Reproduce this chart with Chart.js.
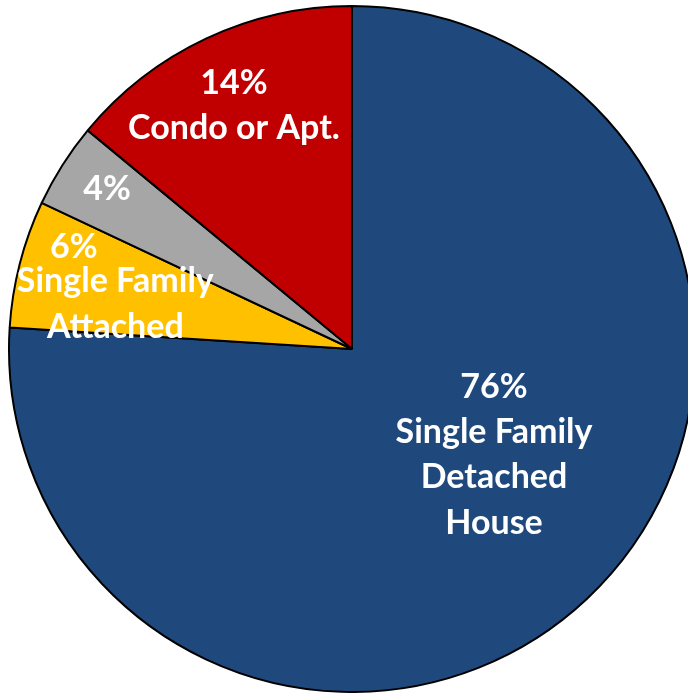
<!DOCTYPE html>
<html>
<head>
<meta charset="utf-8">
<script src="https://cdn.jsdelivr.net/npm/chart.js@4"></script>
<style>
  html, body { margin: 0; padding: 0; background: #ffffff; overflow: hidden; }
  #wrap { position: absolute; left: 0; top: 5px; width: 704px; height: 688px; }
</style>
</head>
<body>
<div id="wrap"><canvas id="chartHousing" width="704" height="688" style="width:704px;height:688px"></canvas></div>
<script>
const categories = ["Single Family Detached House", "Single Family Attached", "Other", "Condo or Apt."];
const shares = [76, 6, 4, 14];
const sliceColors = ["#1f497d", "#ffc000", "#a6a6a6", "#c00000"];

// label text per slice; the name lines are drawn as a separate block for the yellow slice
const nameLines = [["Single Family", "Detached", "House"], ["Single Family", "Attached"], [], ["Condo or Apt."]];

// where each label block sits, as offsets from the pie centre in units of the radius
const pctAnchors = [[0.414, 0.143], [-0.811, -0.265], [-0.714, -0.434], [-0.344, -0.743]];
const nameAnchors = [[0.414, 0.274], [-0.690, -0.166], null, [-0.344, -0.612]];

const FONT = "bold 34px Lato, 'Open Sans', sans-serif";
const LINE_STEP = 45.5;

const sliceLabels = {
  id: "sliceLabels",
  afterDatasetsDraw(chart) {
    const arc = chart.getDatasetMeta(0).data[0];
    if (!arc) return;
    const { x: cx, y: cy, outerRadius: r } = arc.getProps(["x", "y", "outerRadius"], true);
    const ctx = chart.ctx;
    ctx.save();
    ctx.fillStyle = "#ffffff";
    ctx.font = FONT;
    ctx.textAlign = "center";
    ctx.textBaseline = "alphabetic";
    shares.forEach((v, i) => {
      const [px, py] = pctAnchors[i];
      ctx.fillText(`${v}%`, cx + px * r, cy + py * r);
      const anchor = nameAnchors[i];
      if (!anchor) return;
      nameLines[i].forEach((line, k) => {
        ctx.fillText(line, cx + anchor[0] * r, cy + anchor[1] * r + k * LINE_STEP);
      });
    });
    ctx.restore();
  },
};

new Chart(document.getElementById("chartHousing"), {
  type: "pie",
  data: {
    labels: categories,
    datasets: [{
      data: shares,
      backgroundColor: sliceColors,
      borderColor: "#000000",
      borderWidth: 2,
    }],
  },
  options: {
    responsive: false,
    animation: false,
    layout: { padding: 0 },
    plugins: {
      legend: { display: false },
      tooltip: { enabled: false },
    },
  },
  plugins: [sliceLabels],
});
</script>
</body>
</html>
